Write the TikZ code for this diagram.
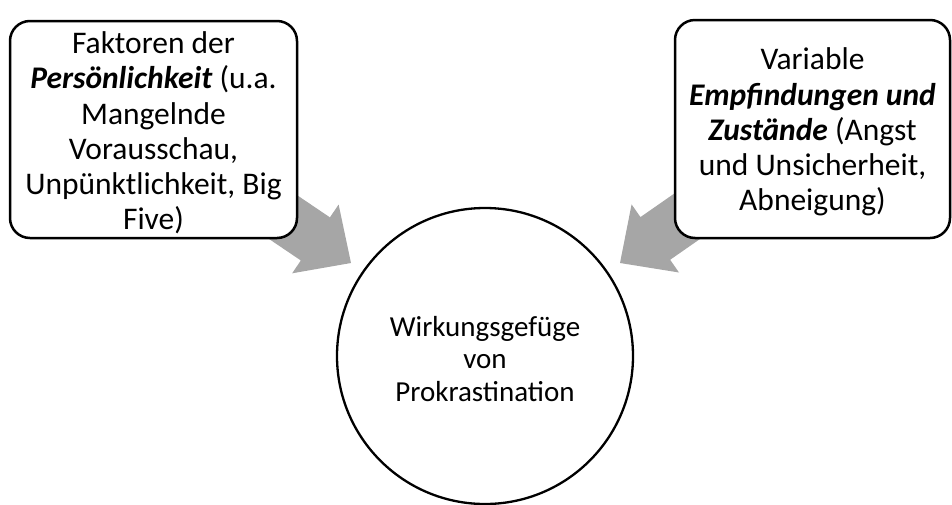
\documentclass[tikz,border=0pt]{standalone}
\usepackage{fontspec}
\setmainfont{Carlito}
\usetikzlibrary{calc}
\pgfdeclarelayer{bg}
\pgfsetlayers{bg,main}
\definecolor{arrowgray}{HTML}{A6A6A6}
\tikzset{
  infobox/.style={draw=black, fill=white, line width=2.5pt, rounded corners=20pt,
    align=center, inner sep=0pt, font=\fontsize{31.5}{35.2}\selectfont},
  centercircle/.style={draw=black, fill=white, line width=2.3pt, circle,
    align=center, inner sep=0pt, font=\fontsize{29}{32.5}\selectfont}
}
\newcommand\blockarrow[3]{% #1 tail, #2 tip, #3 name of base coordinate
  \coordinate (#3) at ($(#2)!43pt!(#1)$);
  \fill[arrowgray] ($(#1)!26pt!90:(#2)$) -- ($(#3)!26pt!90:(#2)$)
    -- ($(#3)!41.5pt!90:(#2)$) -- (#2) -- ($(#3)!41.5pt!-90:(#2)$)
    -- ($(#3)!26pt!-90:(#2)$) -- ($(#1)!26pt!-90:(#2)$) -- cycle;
}
\begin{document}
\begin{tikzpicture}[x=1pt,y=-1pt]
\useasboundingbox (0,0) rectangle (952,504);
\node[infobox, minimum width=287pt, minimum height=217pt] (L) at (153.5,129.5) {};
\node[align=center, inner sep=0pt, font=\fontsize{31.5}{35.2}\selectfont] (Lt) at (153.5,133)
  {Faktoren der\\\textbf{\textit{Persönlichkeit}} (u.a.\\Mangelnde\\Vorausschau,\\Unpünktlichkeit, Big\\Five)};
\node[infobox, minimum width=275pt, minimum height=218pt] (R) at (812.5,129) {};
\node[align=center, inner sep=0pt, font=\fontsize{31.5}{35.2}\selectfont] (Rt) at (812.5,132)
  {Variable\\\textbf{\textit{Empfindungen und}}\\\textbf{\textit{Zustände}} (Angst\\und Unsicherheit,\\Abneigung)};
\node[centercircle, minimum size=296pt] (C) at (485,356) {};
\node[align=center, inner sep=0pt, font=\fontsize{29}{32.5}\selectfont] (Ct) at (485,359)
  {Wirkungsgefüge\\von\\Prokrastination};
\coordinate (lt) at (351,263);
\coordinate (rt) at (620,263);
\begin{pgfonlayer}{bg}
\blockarrow{L.center}{lt}{lb}
\blockarrow{R.center}{rt}{rb}
\end{pgfonlayer}
\end{tikzpicture}
\end{document}
